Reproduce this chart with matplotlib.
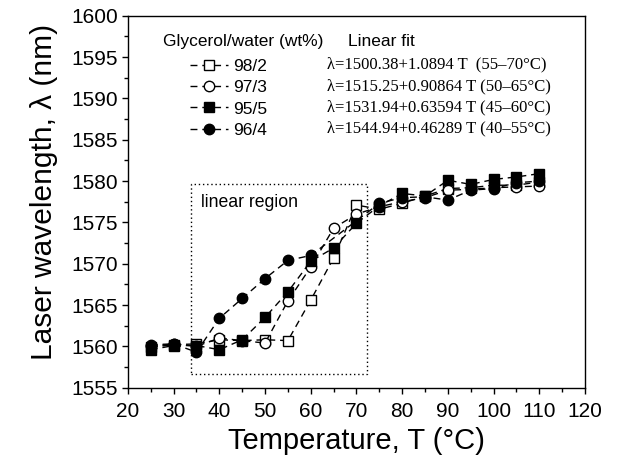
import matplotlib
matplotlib.use("Agg")
import matplotlib.pyplot as plt
from matplotlib.ticker import MultipleLocator
from matplotlib.patches import Rectangle

plt.rcParams['font.family'] = ['Liberation Sans', 'DejaVu Sans']

T = [25, 30, 35, 40, 45, 50, 55, 60, 65, 70, 75, 80, 85, 90, 95, 100, 105, 110]
s98_2 = [1559.9, 1560.2, 1560.3, 1560.8, 1560.7, 1560.8, 1560.7, 1565.6, 1570.7, 1577.1,
         1576.6, 1577.3, 1578.2, 1579.1, 1579.2, 1579.5, 1579.5, 1579.9]
s97_3 = [1560.2, 1560.3, 1560.0, 1561.0, 1560.7, 1560.4, 1565.5, 1569.6, 1574.3, 1576.0,
         1576.9, 1577.5, 1578.0, 1578.9, 1579.0, 1579.2, 1579.3, 1579.4]
s95_5 = [1559.6, 1560.1, 1560.1, 1559.6, 1560.8, 1563.5, 1566.6, 1570.3, 1571.9, 1574.9,
         1577.0, 1578.5, 1578.2, 1580.1, 1579.6, 1580.2, 1580.5, 1580.9]
T4 = [25, 30, 35, 40, 45, 50, 55, 60, 75, 80, 85, 90, 95, 100, 105, 110]
s96_4 = [1560.0, 1560.3, 1559.3, 1563.4, 1565.8, 1568.2, 1570.4, 1571.0,
         1577.3, 1578.0, 1578.1, 1577.7, 1578.9, 1579.1, 1579.8, 1580.0]

labels = ["98/2", "97/3", "95/5", "96/4"]
fits = ["λ=1500.38+1.0894 T  (55–70°C)",
        "λ=1515.25+0.90864 T (50–65°C)",
        "λ=1531.94+0.63594 T (45–60°C)",
        "λ=1544.94+0.46289 T (40–55°C)"]

fig = plt.figure(figsize=(6.18, 4.58), dpi=100)
ax = fig.add_axes([0.207, 0.1535, 0.7396, 0.812])

styles = [
    dict(marker='s', mfc='white', mec='black'),
    dict(marker='o', mfc='white', mec='black'),
    dict(marker='s', mfc='black', mec='black'),
    dict(marker='o', mfc='black', mec='black'),
]
xs = [T, T, T, T4]
series = [s98_2, s97_3, s95_5, s96_4]
handles = []
for x, y, lab, st in zip(xs, series, labels, styles):
    h, = ax.plot(x, y, color='black', ls=(0, (5, 3.5)), lw=1.0, ms=7.5, mew=1.0,
                 label=lab, **st)
    handles.append(h)

ax.set_xlim(20, 120)
ax.set_ylim(1555, 1600)
ax.xaxis.set_major_locator(MultipleLocator(10))
ax.xaxis.set_minor_locator(MultipleLocator(5))
ax.yaxis.set_major_locator(MultipleLocator(5))
ax.yaxis.set_minor_locator(MultipleLocator(2.5))
ax.tick_params(which='major', direction='out', length=4.5, width=1, labelsize=15)
ax.tick_params(which='minor', direction='out', length=3, width=1)
ax.tick_params(axis='x', which='major', pad=5.5)
ax.tick_params(axis='y', which='major', pad=2.5)
for sp in ax.spines.values():
    sp.set_linewidth(1.0)

ax.set_xlabel("Temperature, T (°C)", fontsize=21)
ax.xaxis.set_label_coords(0.5, -0.1046)
ax.set_ylabel("Laser wavelength, λ (nm)", fontsize=21.5)
ax.yaxis.set_label_coords(-0.153, 0.526)

# linear region box
ax.add_patch(Rectangle((33.9, 1556.7), 72.4 - 33.9, 1579.6 - 1556.7, fill=False,
                       ls=(0, (1, 2)), lw=1.0, ec='black'))
ax.text(35.9, 1577.4, "linear region", fontsize=12.7, va='center', ha='left')

ax.text(0.077, 0.930, "Glycerol/water (wt%)", transform=ax.transAxes, fontsize=12.5,
        va='center', ha='left')
leg = ax.legend(handles=handles, loc='upper left', bbox_to_anchor=(0.136, 0.885),
                frameon=False, fontsize=12.5, handlelength=2.2, handletextpad=0.3,
                labelspacing=0.36, borderaxespad=0, borderpad=0)
for line in leg.get_lines():
    line.set_markersize(7.5)

ax.text(0.481, 0.930, "Linear fit", transform=ax.transAxes, fontsize=12.5,
        va='center', ha='left')
ys = [0.869, 0.811, 0.754, 0.697]
for yy, f in zip(ys, fits):
    ax.text(0.435, yy, f, transform=ax.transAxes, fontsize=12.0, va='center', ha='left',
            family=['Liberation Serif', 'DejaVu Serif'])

fig.savefig("out.png", dpi=100)
